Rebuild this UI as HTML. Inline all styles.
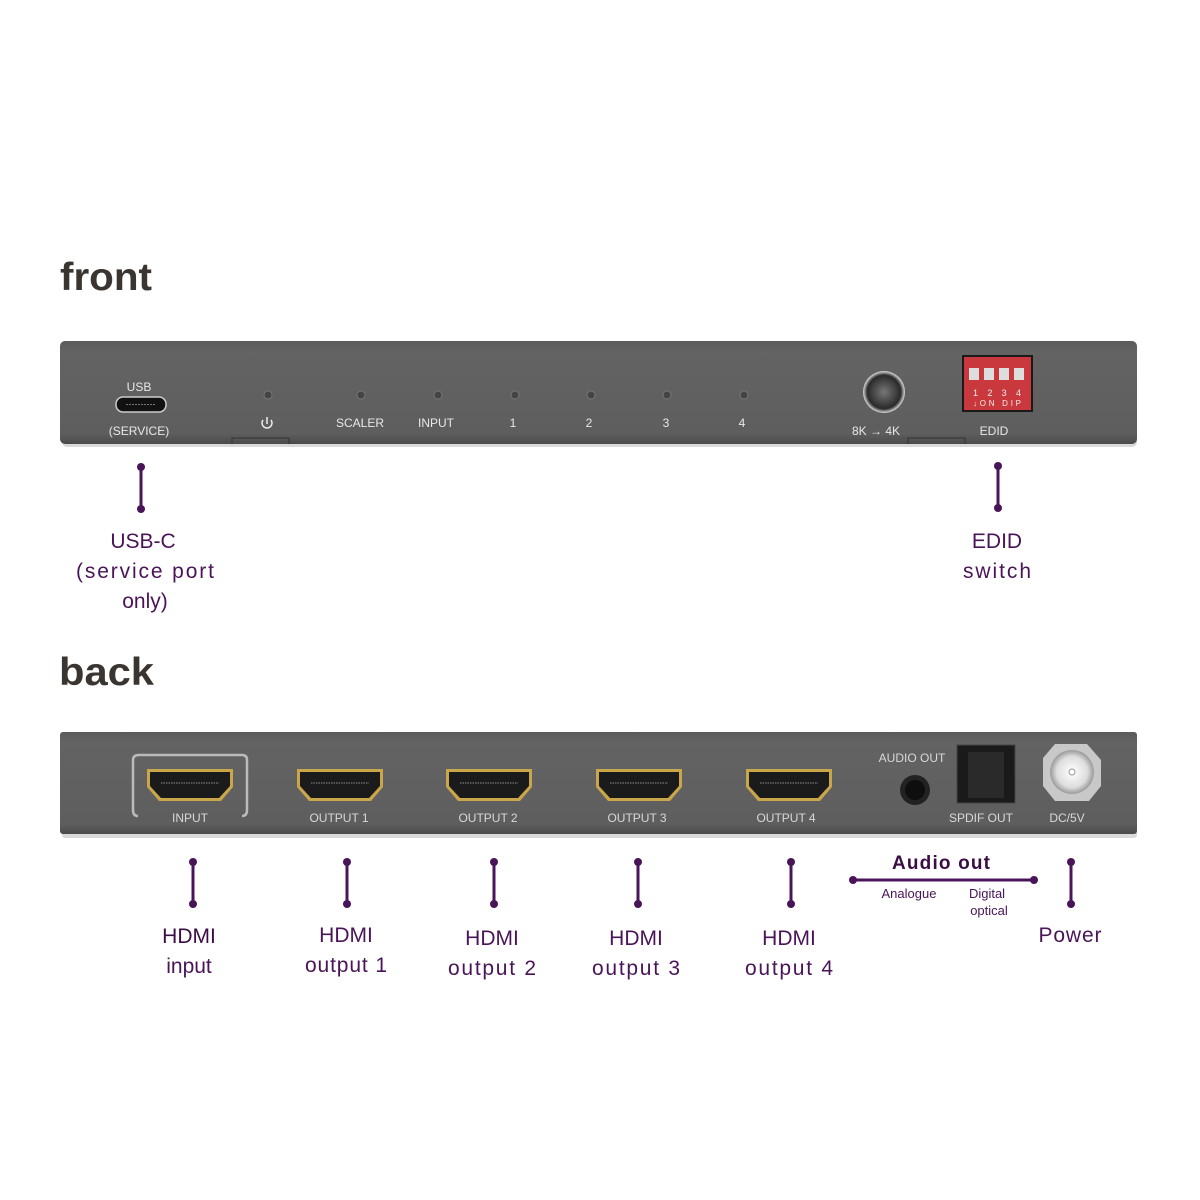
<!DOCTYPE html>
<html><head><meta charset="utf-8"><style>
body{margin:0;background:#fff;width:1200px;height:1200px;overflow:hidden}
svg{display:block}
</style></head><body>
<svg width="1200" height="1200" viewBox="0 0 1200 1200" xmlns="http://www.w3.org/2000/svg" font-family="Liberation Sans, sans-serif">
<defs>
<linearGradient id="pan" x1="0" y1="0" x2="0" y2="1"><stop offset="0" stop-color="#5a5a5a"/><stop offset="0.1" stop-color="#636363"/><stop offset="0.9" stop-color="#5e5e5e"/><stop offset="1" stop-color="#4a4a4a"/></linearGradient>
<radialGradient id="knob" cx="0.5" cy="0.5" r="0.5"><stop offset="0" stop-color="#777"/><stop offset="0.8" stop-color="#2a2a2a"/><stop offset="1" stop-color="#ddd"/></radialGradient>
<radialGradient id="dc" cx="0.5" cy="0.5" r="0.5"><stop offset="0" stop-color="#fff"/><stop offset="0.7" stop-color="#ddd"/><stop offset="1" stop-color="#999"/></radialGradient>
<g id="hdmi"><path d="M0,0 H86 V18 L74,32 H12 L0,18 Z" fill="#c9a64a"/><path d="M3,3 H83 V17 L72,29 H14 L3,17 Z" fill="#1b1b1b"/><line x1="14" y1="14" x2="72" y2="14" stroke="#555" stroke-width="2" stroke-dasharray="1.5 1"/></g>
<g id="v"><line x1="0" y1="0" x2="0" y2="42" stroke="#4a1458" stroke-width="3"/><circle cx="0" cy="0" r="4" fill="#4a1458"/><circle cx="0" cy="42" r="4" fill="#4a1458"/></g>
</defs>
<text x="60" y="290" font-size="39" font-weight="bold" fill="#3a3530" textLength="92" lengthAdjust="spacingAndGlyphs">front</text>
<text x="59" y="685" font-size="39" font-weight="bold" fill="#3a3530" textLength="95" lengthAdjust="spacingAndGlyphs">back</text>
<!-- front panel -->
<rect x="62" y="347" width="1075" height="100" rx="5" fill="#000" opacity="0.15"/>
<rect x="60" y="341" width="1077" height="103" rx="5" fill="url(#pan)"/>
<g font-size="12" fill="#e8e8e8" text-anchor="middle">
<text x="139" y="391">USB</text>
<rect x="116" y="397" width="50" height="15" rx="7" fill="#111" stroke="#ccc" stroke-width="1.5"/>
<line x1="126" y1="404.5" x2="156" y2="404.5" stroke="#777" stroke-width="1" stroke-dasharray="2 1"/>
<text x="139" y="435">(SERVICE)</text>
<text x="360" y="427">SCALER</text><text x="436" y="427">INPUT</text>
<text x="513" y="427">1</text><text x="589" y="427">2</text><text x="666" y="427">3</text><text x="742" y="427">4</text>
<text x="876" y="435">8K → 4K</text><text x="994" y="435">EDID</text>
</g>
<g fill="#444" stroke="#777" stroke-width="1">
<circle cx="268" cy="395" r="4"/><circle cx="361" cy="395" r="4"/><circle cx="438" cy="395" r="4"/><circle cx="515" cy="395" r="4"/><circle cx="591" cy="395" r="4"/><circle cx="667" cy="395" r="4"/><circle cx="744" cy="395" r="4"/>
</g>
<path d="M263,420 A5,5 0 1 0 271,420 M267,417 V424" fill="none" stroke="#eee" stroke-width="1.5"/>
<path d="M232,444 V438 H289 V444" fill="none" stroke="#333"/>
<path d="M908,444 V438 H965 V444" fill="none" stroke="#333"/>
<circle cx="884" cy="392" r="21" fill="url(#knob)"/>
<rect x="962" y="355" width="71" height="57" fill="#1a1a1a"/>
<rect x="964" y="357" width="67" height="53" fill="#c8383d"/>
<g fill="#ddd"><rect x="969" y="368" width="10" height="12"/><rect x="984" y="368" width="10" height="12"/><rect x="999" y="368" width="10" height="12"/><rect x="1014" y="368" width="10" height="12"/></g>
<text x="997" y="396" font-size="9" fill="#eee" text-anchor="middle" textLength="48">1 2 3 4</text>
<text x="997" y="406" font-size="8" fill="#eee" text-anchor="middle" textLength="48">↓ON   DIP</text>
<!-- back panel -->
<rect x="62" y="738" width="1075" height="100" rx="3" fill="#000" opacity="0.15"/>
<rect x="60" y="732" width="1077" height="102" rx="3" fill="url(#pan)"/>
<path d="M138,816 Q133,816 133,810 V760 Q133,755 139,755 H242 Q247,755 247,760 V810 Q247,816 242,816" fill="none" stroke="#bbb" stroke-width="2.5"/>
<use href="#hdmi" x="147" y="769"/><use href="#hdmi" x="297" y="769"/><use href="#hdmi" x="446" y="769"/><use href="#hdmi" x="596" y="769"/><use href="#hdmi" x="746" y="769"/>
<g font-size="12" fill="#d8d8d8" text-anchor="middle">
<text x="190" y="822">INPUT</text><text x="339" y="822">OUTPUT 1</text><text x="488" y="822">OUTPUT 2</text><text x="637" y="822">OUTPUT 3</text><text x="786" y="822">OUTPUT 4</text>
<text x="912" y="762">AUDIO OUT</text><text x="981" y="822">SPDIF OUT</text><text x="1067" y="822">DC/5V</text>
</g>
<circle cx="915" cy="790" r="15" fill="#222"/><circle cx="915" cy="790" r="10" fill="#0e0e0e"/>
<rect x="957" y="745" width="58" height="58" fill="#1a1a1a" stroke="#444"/>
<rect x="968" y="752" width="36" height="46" fill="#2a2a2a"/>
<polygon points="1043,758 1055,744 1087,744 1101,760 1101,786 1089,801 1055,801 1043,786" fill="#c8c8c8"/>
<circle cx="1072" cy="772" r="22" fill="url(#dc)"/><circle cx="1072" cy="772" r="3" fill="none" stroke="#999"/>
<!-- connectors -->
<use href="#v" x="141" y="467"/><use href="#v" x="998" y="466"/>
<use href="#v" x="193" y="862"/><use href="#v" x="347" y="862"/><use href="#v" x="494" y="862"/><use href="#v" x="638" y="862"/><use href="#v" x="791" y="862"/><use href="#v" x="1071" y="862"/>
<line x1="853" y1="880" x2="1034" y2="880" stroke="#4a1458" stroke-width="3"/><circle cx="853" cy="880" r="4" fill="#4a1458"/><circle cx="1034" cy="880" r="4" fill="#4a1458"/>
<g font-size="21" fill="#4a1458" text-anchor="middle">
<text x="143" y="548">USB-C</text><text x="145" y="578" textLength="138">(service port</text><text x="145" y="608">only)</text>
<text x="997" y="548">EDID</text><text x="997" y="578" textLength="68">switch</text>
<text x="189" y="943" fill="#3a0d45">HDMI</text><text x="189" y="973">input</text>
<text x="346" y="942">HDMI</text><text x="346" y="972" textLength="82">output 1</text>
<text x="492" y="945">HDMI</text><text x="492" y="975" textLength="88">output 2</text>
<text x="636" y="945">HDMI</text><text x="636" y="975" textLength="88">output 3</text>
<text x="789" y="945">HDMI</text><text x="789" y="975" textLength="88">output 4</text>
<text x="1070" y="942" textLength="63">Power</text>
</g>
<text x="941" y="869" font-size="19" font-weight="bold" fill="#3a0d45" text-anchor="middle" textLength="98">Audio out</text>
<g font-size="13" fill="#4a1458" text-anchor="middle"><text x="909" y="898">Analogue</text><text x="987" y="898">Digital</text><text x="989" y="915">optical</text></g>
</svg>
</body></html>
